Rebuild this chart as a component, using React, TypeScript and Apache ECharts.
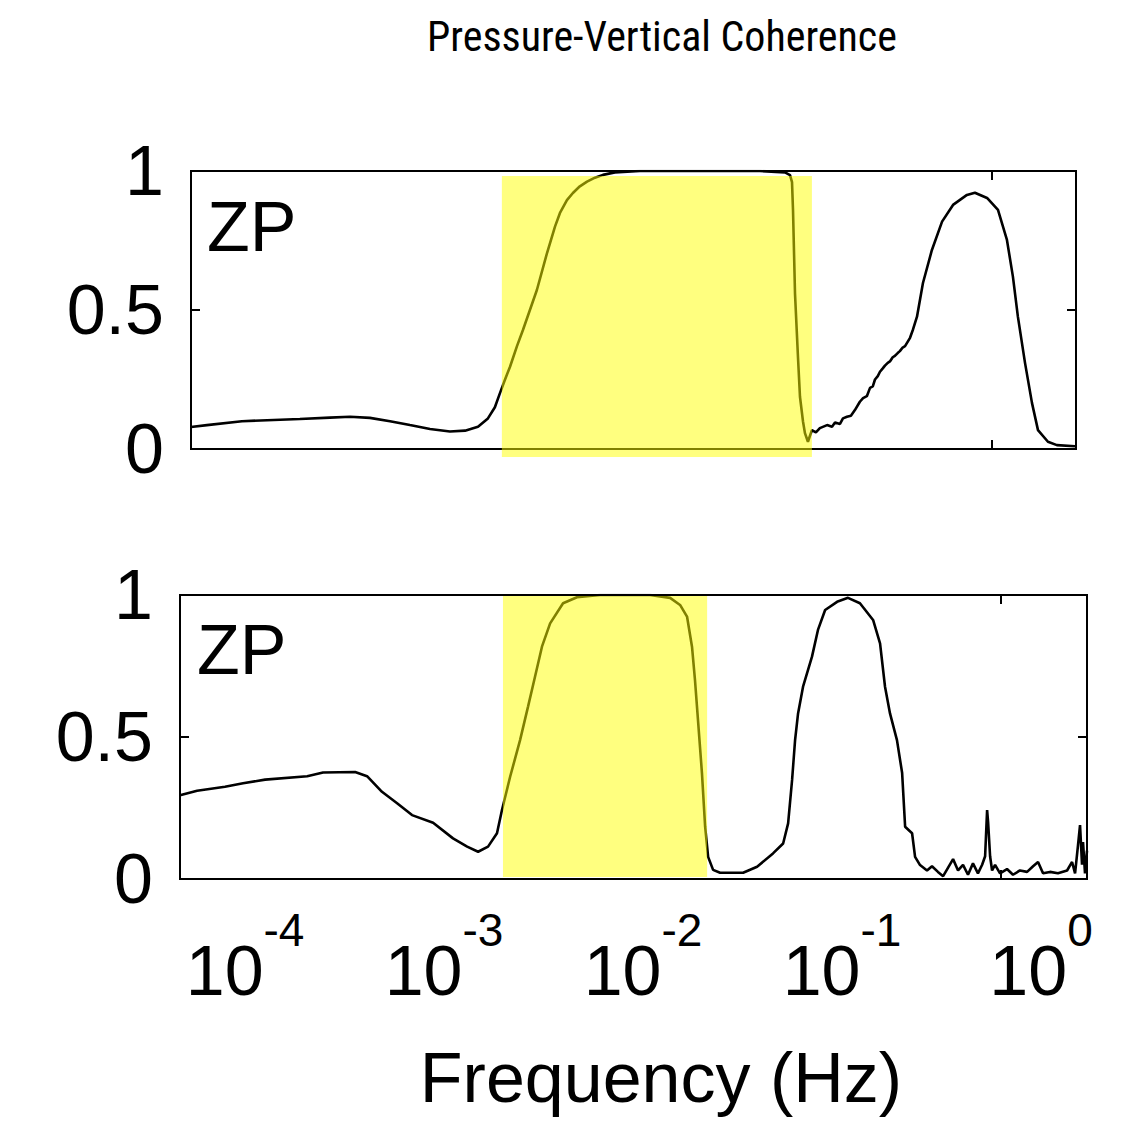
import React, { useEffect, useRef } from 'react';
import * as echarts from 'echarts';

const titleText = 'Pressure-Vertical Coherence';
const panelLabel = 'ZP';
const xAxisName = 'Frequency (Hz)';
const xTickExponents = [-4, -3, -2, -1, 0];
const yTickValues = [0, 0.5, 1];

// log10 of frequency (Hz) and coherence, top panel
const topLog10Freq = [
  -4.271, -4.191, -4.015, -3.724, -3.573, -3.472, -3.372, -3.271, -3.171, -3.07,
  -2.97, -2.894, -2.829, -2.779, -2.744, -2.719, -2.693, -2.668, -2.633, -2.603,
  -2.568, -2.533, -2.482, -2.442, -2.417, -2.382, -2.352, -2.317, -2.281, -2.241,
  -2.201, -2.141, -2.015, -1.714, -1.412, -1.286, -1.261, -1.251, -1.246, -1.236,
  -1.221, -1.211, -1.196, -1.186, -1.171, -1.151, -1.131, -1.111, -1.075, -1.05,
  -1.035, -1.01, -0.995, -0.975, -0.955, -0.935, -0.91, -0.894, -0.875, -0.859,
  -0.845, -0.834, -0.82, -0.809, -0.795, -0.784, -0.77, -0.759, -0.745, -0.734,
  -0.72, -0.709, -0.695, -0.683, -0.658, -0.643, -0.623, -0.593, -0.548, -0.497,
  -0.442, -0.372, -0.332, -0.271, -0.216, -0.171, -0.141, -0.116, -0.08, -0.045,
  -0.015, 0.035, 0.08, 0.171
];
const topCoherence = [
  0.079, 0.086, 0.1, 0.108, 0.113, 0.116, 0.112, 0.1, 0.086, 0.072,
  0.063, 0.066, 0.08, 0.11, 0.15, 0.2, 0.25, 0.296, 0.37, 0.428,
  0.5, 0.572, 0.705, 0.8, 0.849, 0.895, 0.921, 0.945, 0.962, 0.976,
  0.986, 0.995, 1.0, 1.0, 1.0, 0.995, 0.985, 0.96, 0.86, 0.56,
  0.33, 0.188, 0.1, 0.057, 0.026, 0.068, 0.06, 0.075, 0.086, 0.08,
  0.095, 0.09, 0.11, 0.116, 0.12, 0.14, 0.17, 0.183, 0.19, 0.22,
  0.225, 0.25, 0.262, 0.278, 0.29, 0.3, 0.31, 0.315, 0.33, 0.335,
  0.345, 0.352, 0.365, 0.37, 0.4, 0.43, 0.476, 0.597, 0.716, 0.818,
  0.878, 0.914, 0.922, 0.903, 0.86, 0.752, 0.62, 0.476, 0.309, 0.165,
  0.068, 0.026, 0.014, 0.01
];

// log10 of frequency (Hz) and coherence, bottom panel
const bottomLog10Freq = [
  -4.327, -4.241, -4.101, -4.01, -3.899, -3.688, -3.608, -3.447, -3.387, -3.312,
  -3.236, -3.161, -3.055, -2.955, -2.884, -2.829, -2.779, -2.734, -2.709, -2.668,
  -2.618, -2.578, -2.543, -2.508, -2.467, -2.402, -2.332, -2.216, -1.965, -1.864,
  -1.814, -1.779, -1.754, -1.739, -1.724, -1.704, -1.688, -1.673, -1.648, -1.613,
  -1.497, -1.427, -1.347, -1.296, -1.271, -1.251, -1.236, -1.221, -1.196, -1.151,
  -1.121, -1.085, -1.025, -0.97, -0.91, -0.844, -0.809, -0.784, -0.759, -0.724,
  -0.698, -0.683, -0.648, -0.633, -0.608, -0.573, -0.548, -0.518, -0.492, -0.467,
  -0.442, -0.417, -0.392, -0.367, -0.342, -0.317, -0.296, -0.281, -0.271, -0.266,
  -0.256, -0.246, -0.231, -0.206, -0.171, -0.141, -0.106, -0.07, -0.04, -0.015,
  0.01, 0.045, 0.085, 0.131, 0.156, 0.171, 0.186, 0.196, 0.206, 0.211,
  0.221, 0.231
];
const bottomCoherence = [
  0.295, 0.311, 0.325, 0.337, 0.35, 0.362, 0.375, 0.377, 0.362, 0.307,
  0.267, 0.225, 0.198, 0.143, 0.114, 0.096, 0.114, 0.161, 0.243, 0.36,
  0.489, 0.607, 0.712, 0.818, 0.9, 0.971, 0.992, 1.0, 1.0, 0.99,
  0.965, 0.924, 0.818, 0.7, 0.56, 0.373, 0.184, 0.078, 0.032, 0.022,
  0.022, 0.043, 0.09, 0.125, 0.196, 0.349, 0.489, 0.583, 0.677, 0.783,
  0.877, 0.947, 0.976, 0.99, 0.971, 0.912, 0.83, 0.677, 0.583, 0.489,
  0.373, 0.184, 0.161, 0.078, 0.049, 0.03, 0.045, 0.025, 0.01, 0.04,
  0.07, 0.03, 0.05, 0.015, 0.055, 0.02, 0.05, 0.08, 0.243, 0.2,
  0.08, 0.03, 0.05, 0.02, 0.035, 0.015, 0.03, 0.025, 0.045, 0.06,
  0.02, 0.025, 0.02, 0.03, 0.06, 0.02, 0.12, 0.19, 0.05, 0.13,
  0.02, 0.1
];

const topBand = [-2.709, -1.151];
const bottomBand = [-2.704, -1.678];
const topExtraTicks = [-0.246];
const bottomExtraTicks = [-0.201];
const topXRange = [-4.271, 0.176];
const bottomXRange = [-4.327, 0.231];

const FONT = '"Liberation Sans", Arial, sans-serif';

function zip(xs: number[], ys: number[]) {
  return xs.map((x, i) => [x, ys[i]]);
}

function bandRenderer(padTop: number, padBottom: number) {
  return (params: any, api: any) => {
    const p0 = api.coord([api.value(0), 1]);
    const p1 = api.coord([api.value(1), 0]);
    return {
      type: 'rect',
      shape: {
        x: p0[0],
        y: p0[1] + padTop,
        width: p1[0] - p0[0],
        height: p1[1] - p0[1] - padTop + padBottom,
      },
      style: { fill: 'rgba(255,255,0,0.5)' },
    };
  };
}

function xAxisFor(gridIndex: number, position: string, range: number[], ticks: number[], withLabels: boolean) {
  const ax: any = {
    gridIndex,
    type: 'value',
    position,
    min: range[0],
    max: range[1],
    axisLine: { show: false, onZero: false },
    splitLine: { show: false },
    axisTick: {
      show: true,
      inside: true,
      length: 9,
      customValues: ticks,
      lineStyle: { color: '#000', width: 2 },
    },
    axisLabel: { show: false },
  };
  if (withLabels) {
    ax.axisLabel = {
      show: true,
      customValues: xTickExponents,
      margin: 28,
      formatter: (v: number) => `{b|10}{s|${Math.round(v)}}`,
      rich: {
        b: { fontSize: 70, fontFamily: FONT, color: '#000', lineHeight: 128 },
        s: { fontSize: 46, fontFamily: FONT, color: '#000', verticalAlign: 'top' },
      },
    };
    ax.name = xAxisName;
    ax.nameLocation = 'middle';
    ax.nameGap = 164;
    ax.nameTextStyle = {
      fontSize: 70,
      fontFamily: FONT,
      color: '#000',
      padding: [0, 0, 0, 55],
    };
  }
  return ax;
}

function yAxisFor(gridIndex: number, position: string, withLabels: boolean) {
  return {
    gridIndex,
    type: 'value',
    position,
    min: yTickValues[0],
    max: yTickValues[yTickValues.length - 1],
    interval: 0.5,
    axisLine: { show: false, onZero: false },
    splitLine: { show: false },
    axisTick: { show: true, inside: true, length: 9, lineStyle: { color: '#000', width: 2 } },
    axisLabel: {
      show: withLabels,
      fontSize: 70,
      fontFamily: FONT,
      color: '#000',
      margin: 27,
      formatter: (v: number) => String(v),
    },
  };
}

export default function App() {
  const ref = useRef<HTMLDivElement>(null);
  useEffect(() => {
    if (!ref.current) return;
    const chart = echarts.init(ref.current, null, { renderer: 'svg' });
    const option: any = {
      animation: false,
      backgroundColor: '#fff',
      title: {
        text: titleText,
        left: 657,
        top: 10,
        textAlign: 'center',
        textStyle: {
          fontFamily: '"Roboto Condensed", "DejaVu Sans Condensed", Roboto, sans-serif',
          fontSize: 42,
          fontWeight: 'normal',
          color: '#000',
        },
      },
      grid: [
        { left: 191, top: 171, width: 885, height: 278, show: true, borderColor: '#000', borderWidth: 2, backgroundColor: '#fff' },
        { left: 180, top: 595, width: 907, height: 284, show: true, borderColor: '#000', borderWidth: 2, backgroundColor: '#fff' },
      ],
      xAxis: [
        xAxisFor(0, 'bottom', topXRange, topExtraTicks, false),
        xAxisFor(0, 'top', topXRange, topExtraTicks, false),
        xAxisFor(1, 'bottom', bottomXRange, bottomExtraTicks, true),
        xAxisFor(1, 'top', bottomXRange, bottomExtraTicks, false),
      ],
      yAxis: [
        yAxisFor(0, 'left', true),
        yAxisFor(0, 'right', false),
        yAxisFor(1, 'left', true),
        yAxisFor(1, 'right', false),
      ],
      graphic: [
        {
          type: 'text',
          left: 207,
          top: 192,
          style: { text: panelLabel, font: `70px ${FONT}`, fill: '#000' },
        },
        {
          type: 'text',
          left: 197,
          top: 615,
          style: { text: panelLabel, font: `70px ${FONT}`, fill: '#000' },
        },
      ],
      series: [
        {
          type: 'line',
          xAxisIndex: 0,
          yAxisIndex: 0,
          data: zip(topLog10Freq, topCoherence),
          showSymbol: false,
          lineStyle: { color: '#000', width: 2.6 },
          z: 2,
          silent: true,
        },
        {
          type: 'custom',
          xAxisIndex: 0,
          yAxisIndex: 0,
          data: [topBand],
          renderItem: bandRenderer(5, 8),
          z: 5,
          silent: true,
        },
        {
          type: 'line',
          xAxisIndex: 2,
          yAxisIndex: 2,
          data: zip(bottomLog10Freq, bottomCoherence),
          showSymbol: false,
          lineStyle: { color: '#000', width: 2.6 },
          z: 2,
          silent: true,
        },
        {
          type: 'custom',
          xAxisIndex: 2,
          yAxisIndex: 2,
          data: [bottomBand],
          renderItem: bandRenderer(1, -2),
          z: 5,
          silent: true,
        },
      ],
    };
    chart.setOption(option);
    return () => chart.dispose();
  }, []);
  return (
    <div
      ref={ref}
      style={{ position: 'fixed', left: 0, top: 0, width: 1143, height: 1125, background: '#fff' }}
    />
  );
}
